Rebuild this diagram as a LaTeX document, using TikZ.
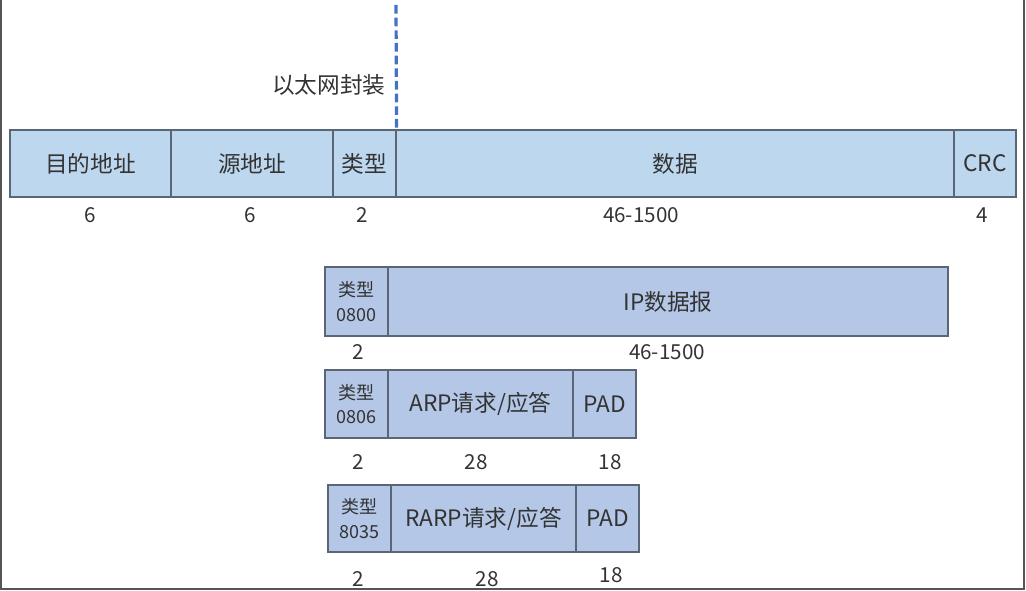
\documentclass[tikz,border=0pt]{standalone}
\usepackage{fontspec}
\setmainfont{Noto Sans CJK SC}
\definecolor{ethfill}{HTML}{BDD7EE}
\definecolor{subfill}{HTML}{B4C7E7}
\definecolor{boxline}{HTML}{5A6675}
\definecolor{txtgray}{HTML}{333333}
\definecolor{encapblue}{HTML}{4472C4}
\definecolor{framegray}{HTML}{555555}
\begin{document}
\begin{tikzpicture}[
    x=0.75pt, y=-0.75pt,
    field/.style={draw=boxline, line width=0.9pt, fill=ethfill, inner sep=0pt,
      text=txtgray, font=\fontsize{17}{20}\selectfont},
    subfield/.style={field, fill=subfill},
    typecell/.style={subfield, align=center, font=\fontsize{13.5}{18.5}\selectfont},
    lenlabel/.style={text=txtgray, inner sep=1pt, font=\fontsize{15.5}{18}\selectfont},
  ]
    \useasboundingbox (0,0) rectangle (1026,591);
    % screenshot frame (left, bottom, right)
    \draw[framegray, line width=1.5pt] (1,0) -- (1,589) -- (1024,589) -- (1024,0);
    % Ethernet frame: x from / x to / text
    \foreach \a/\b/\txt [count=\i] in {10/171/目的地址, 171/333/源地址, 333/396/类型, 396/954/数据, 954/1016/CRC} {
      \node[field, minimum width={(\b-\a)*0.75pt}, minimum height=50.25pt] (eth\i) at ({(\a+\b)/2}, 163.5) {\txt};
    }
    \foreach \x/\n [count=\i] in {90/6, 250/6, 362/2, 641/46-1500, 982/4} {
      \node[lenlabel] (ethlen\i) at (\x, 215) {\n};
    }
    % encapsulation boundary
    \node[lenlabel, anchor=east, font=\fontsize{17}{20}\selectfont] (encap) at (387, 85) {以太网封装};
    \coordinate (encaptop) at (396, 5);
    \draw[encapblue, line width=2.4pt, dash pattern=on 6.5pt off 3pt] (encaptop) -- (eth3.north east);
    % IP datagram
    \node[typecell, minimum width=47.25pt, minimum height=51.75pt] (iptype) at (356.5, 301.5) {类型\\0800};
    \node[subfield, minimum width=420pt, minimum height=51.75pt] (ipdata) at (668, 301.5) {IP数据报};
    \node[lenlabel] (iplen1) at (358, 352) {2};
    \node[lenlabel] (iplen2) at (667, 352) {46-1500};
    % ARP request / reply
    \node[typecell, minimum width=47.25pt, minimum height=51pt] (arptype) at (356.5, 404) {类型\\0806};
    \node[subfield, minimum width=138.75pt, minimum height=51pt] (arpdata) at (480.5, 404) {ARP请求/应答};
    \node[subfield, minimum width=47.25pt, minimum height=51pt] (arppad) at (604.5, 404) {PAD};
    \foreach \x/\n [count=\i] in {358/2, 476/28, 610/18} {
      \node[lenlabel] (arplen\i) at (\x, 462) {\n};
    }
    % RARP request / reply
    \node[typecell, minimum width=47.25pt, minimum height=50.25pt] (rarptype) at (359.5, 518.5) {类型\\8035};
    \node[subfield, minimum width=138.75pt, minimum height=50.25pt] (rarpdata) at (483.5, 518.5) {RARP请求/应答};
    \node[subfield, minimum width=47.25pt, minimum height=50.25pt] (rarppad) at (607.5, 518.5) {PAD};
    \node[lenlabel] (rarplen1) at (358, 579) {2};
    \node[lenlabel] (rarplen2) at (487, 579) {28};
    \node[lenlabel] (rarplen3) at (611, 575) {18};
\end{tikzpicture}
\end{document}
